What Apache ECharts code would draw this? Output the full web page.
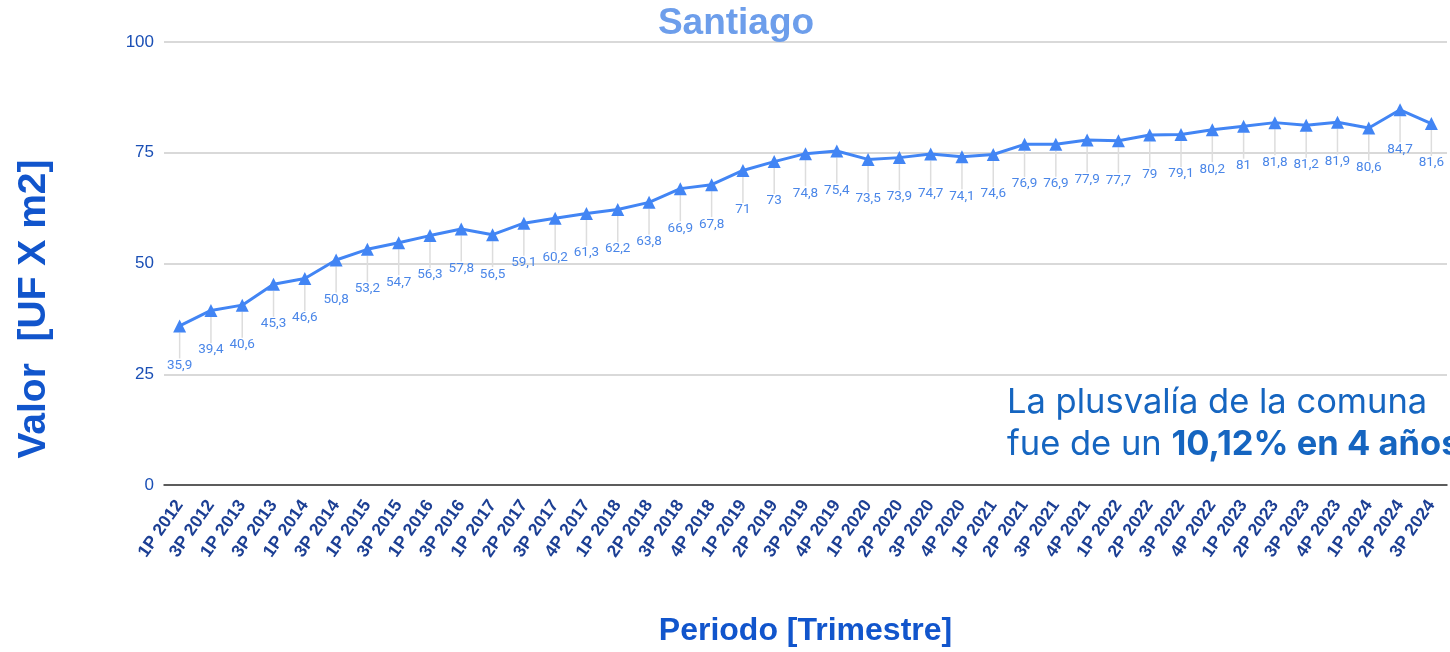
<!DOCTYPE html>
<html><head><meta charset="utf-8">
<script src="https://cdn.jsdelivr.net/npm/echarts@6/dist/echarts.min.js"></script>
<style>html,body{margin:0;padding:0;background:#fff}#c{width:1450px;height:652px}</style>
</head><body><div id="c"></div>
<script>
const categories = ["1P 2012","3P 2012","1P 2013","3P 2013","1P 2014","3P 2014","1P 2015","3P 2015","1P 2016","3P 2016",
"1P 2017","2P 2017","3P 2017","4P 2017","1P 2018","2P 2018","3P 2018","4P 2018","1P 2019","2P 2019","3P 2019","4P 2019",
"1P 2020","2P 2020","3P 2020","4P 2020","1P 2021","2P 2021","3P 2021","4P 2021","1P 2022","2P 2022","3P 2022","4P 2022",
"1P 2023","2P 2023","3P 2023","4P 2023","1P 2024","2P 2024","3P 2024"];
const values = [35.9,39.4,40.6,45.3,46.6,50.8,53.2,54.7,56.3,57.8,56.5,59.1,60.2,61.3,62.2,63.8,66.9,67.8,71,73,74.8,75.4,
73.5,73.9,74.7,74.1,74.6,76.9,76.9,77.9,77.7,79,79.1,80.2,81,81.8,81.2,81.9,80.6,84.7,81.6];
const yTicks = [0,25,50,75,100];

const chart = echarts.init(document.getElementById('c'));
chart.setOption({
  backgroundColor:'#fff',
  animation:false,
  title:{text:'Santiago',left:731,top:0,textAlign:'center',
    textStyle:{color:'#6d9eeb',fontSize:37,fontWeight:'bold',fontFamily:'Liberation Sans, Arial'}},
  grid:{left:164,right:3,top:42,bottom:165},
  xAxis:{type:'category',data:categories,boundaryGap:true,
    name:'Periodo [Trimestre]',nameLocation:'middle',nameGap:130,
    nameTextStyle:{color:'#1155cc',fontSize:32,fontWeight:'bold',fontFamily:'Liberation Sans, Arial'},
    axisLine:{lineStyle:{color:'#333',width:1.5}},axisTick:{show:false},
    axisLabel:{interval:0,rotate:55,color:'#1c3f94',fontSize:17.5,fontWeight:'bold',fontFamily:'Liberation Sans, Arial',margin:17}},
  yAxis:{type:'value',min:0,max:100,interval:25,
    axisLine:{show:false},axisTick:{show:false},
    splitLine:{lineStyle:{color:'#cccccc',width:1.5}},
    axisLabel:{color:'#1a4fb5',fontSize:17,fontFamily:'Liberation Sans, Arial',margin:10,
      formatter:v=>yTicks.includes(v)?String(v):''}},
  series:[{type:'line',data:values,symbol:'triangle',symbolSize:13,
    lineStyle:{color:'#4285f4',width:3},itemStyle:{color:'#4285f4'},
    label:{show:true,position:'bottom',distance:4,color:'#4a86e8',fontSize:13.5,fontFamily:'Roboto, Liberation Sans',
      formatter:p=>String(p.value).replace('.',',')},
    labelLayout:{dy:22},
    labelLine:{show:true,lineStyle:{color:'#dddddd',width:1.5}}
  }],
  graphic:[
    {type:'text',x:34,y:309,rotation:Math.PI/2,
      style:{text:'Valor  [UF X m2]',fill:'#1155cc',fontSize:39,fontWeight:'bold',fontFamily:'Liberation Sans, Arial',
        textAlign:'center',textVerticalAlign:'middle'}},
    {type:'text',left:1007,top:385,
    style:{rich:{
      n:{fontSize:34.5,fill:'#1565c0',fontFamily:'Inter, Noto Sans',lineHeight:42},
      b:{fontSize:34.5,fill:'#1565c0',fontWeight:'bold',fontFamily:'Inter, Noto Sans',lineHeight:42}},
      text:'{n|La plusvalía de la comuna}\n{n|fue de un }{b|10,12% en 4 años}'}}]
});
</script></body></html>
